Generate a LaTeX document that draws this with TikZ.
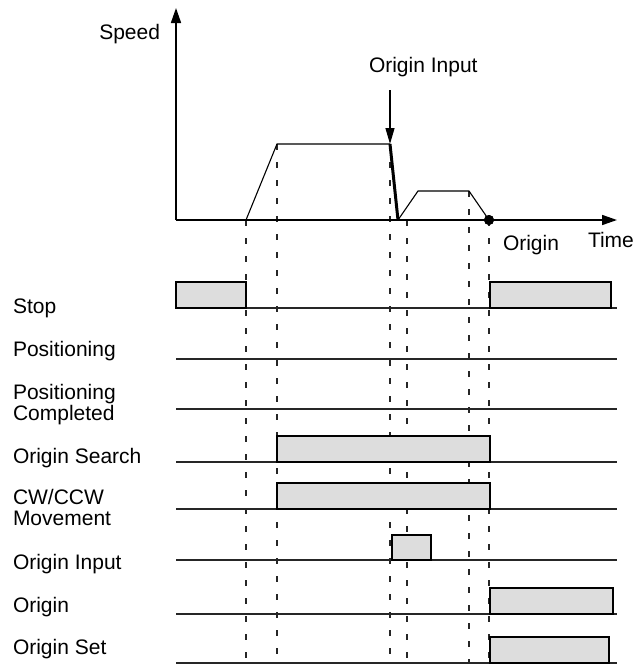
\documentclass[tikz,border=0pt]{standalone}
\usepackage{fontspec}
\setmainfont{Liberation Sans}
\usetikzlibrary{arrows.meta}
\definecolor{barfill}{HTML}{DDDDDD}
\begin{document}
\begin{tikzpicture}[x=1pt,y=-1pt,
  lbl/.style={inner sep=0pt, outer sep=0pt, font=\fontsize{21}{21}\selectfont},
  sig/.style={line width=1.2pt, draw=black!85},
  bar/.style={line width=1.2pt, draw=black, fill=barfill},
  guide/.style={line width=1.2pt, dash pattern=on 6pt off 12pt, draw=black!85},
  axis/.style={line width=1.6pt, -{Triangle[length=15pt,width=10pt]}},
  prof/.style={line width=1.1pt},
  dot/.style={circle, fill=black, inner sep=0pt, minimum size=10pt},
]
\useasboundingbox (0,0) rectangle (635,664);

% speed profile points
\coordinate (O) at (176,220);
\coordinate (ytop) at (176,8);
\coordinate (xend) at (617,220);
\coordinate (p1) at (246,220);
\coordinate (p2) at (277,144);
\coordinate (p3) at (390,144);
\coordinate (p4) at (398,220);
\coordinate (p5) at (418,191);
\coordinate (p6) at (469,191);
\node[dot] (p7) at (489,220) {};
\coordinate (q4) at (407,220);
\coordinate (oiarrow) at (390,90);

% guide bottoms
\coordinate (b1) at (246,664);
\coordinate (b2) at (277,664);
\coordinate (b3) at (390,664);
\coordinate (b4) at (407,664);
\coordinate (b5) at (469,664);
\coordinate (b6) at (489,664);

% dashed guides
\draw[guide] (p1) -- (b1);
\draw[guide] (p2) -- (b2);
\draw[guide] (p3) -- (b3);
\draw[guide] (q4) -- (b4);
\draw[guide] (p6) -- (b5);
\draw[guide] (p7.center) -- (b6);

% axes
\draw[axis] (O) -- (ytop);
\draw[axis] (O) -- (xend);

% profile
\draw[prof] (p1) -- (p2) -- (p3);
\draw[line width=3pt] (p3) -- (p4);
\draw[prof] (p4) -- (p5) -- (p6) -- (p7.center);
\node[dot] at (p7) {};
\draw[line width=1.2pt, -{Triangle[length=16pt,width=9pt]}] (oiarrow) -- (p3);

% top labels
\node[lbl, anchor=base east] (speed) at (160,39) {Speed};
\node[lbl, anchor=base west] (oitext) at (369,72) {Origin Input};
\node[lbl, anchor=base west] (origintext) at (503,250) {Origin};
\node[lbl, anchor=base west] (timetext) at (588,247) {Time};

% signal baselines
\foreach \yy in {308,359,409,462,509,560,614,663}
  \draw[sig] (176,\yy) -- (617,\yy);

% bars
\draw[bar] (176,282) rectangle (246,308);
\draw[bar] (490,282) rectangle (611,308);
\draw[bar] (277,436) rectangle (490,462);
\draw[bar] (277,483) rectangle (490,509);
\draw[bar] (392,535) rectangle (431,560);
\draw[bar] (490,588) rectangle (613,614);
\draw[bar] (490,637) rectangle (609,663);

% row labels
\node[lbl, anchor=base west] (l1) at (13,313) {Stop};
\node[lbl, anchor=base west] (l2) at (13,356) {Positioning};
\node[lbl, anchor=north west, align=left] (l3) at (13,384) {Positioning\\Completed};
\node[lbl, anchor=base west] (l4) at (13,463) {Origin Search};
\node[lbl, anchor=north west, align=left] (l5) at (13,489) {CW/CCW\\Movement};
\node[lbl, anchor=base west] (l6) at (13,569) {Origin Input};
\node[lbl, anchor=base west] (l7) at (13,612) {Origin};
\node[lbl, anchor=base west] (l8) at (13,654) {Origin Set};
\end{tikzpicture}
\end{document}
